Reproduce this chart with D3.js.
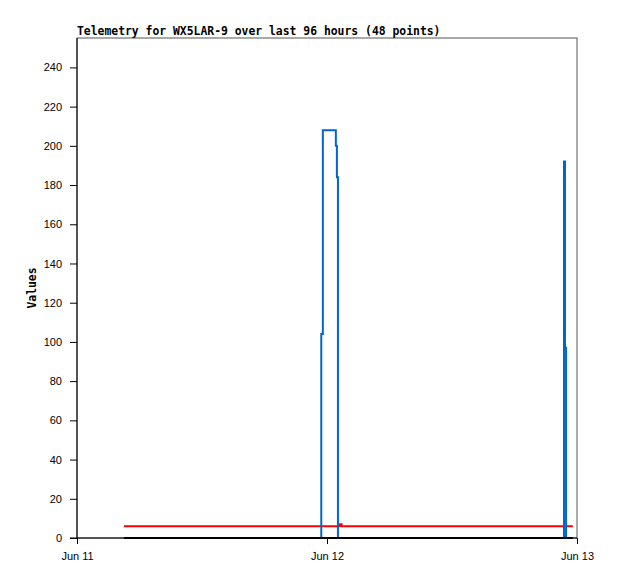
<!DOCTYPE html>
<html>
<head>
<meta charset="utf-8">
<script src="https://cdn.jsdelivr.net/npm/d3@7"></script>
<style>
  body { margin: 0; background: #fff; }
  svg { display: block; font-family: "DejaVu Sans Mono", "Liberation Mono", monospace; }
</style>
</head>
<body>
<svg id="chart"></svg>
<script>
// hours after Jun 11 00:00 and the values
var blueHours  = [4.5, 23.45, 23.6, 24.85, 24.95, 25.05, 46.75, 46.85, 46.95, 47.6]
var blueValues = [0,   104,   208,  200,   184,   0,     192,   97,    0,     0]

var redHours  = [4.5, 25.25, 25.4, 47.6]
var redValues = [6,   7,     6,    6]

var blackHours  = [4.5, 47.6]
var blackValues = [0,   0]

var yTicks = [0, 20, 40, 60, 80, 100, 120, 140, 160, 180, 200, 220, 240]
var xTickLabels = ["Jun 11", "Jun 12", "Jun 13"]

var width = 618, height = 579
var margin = {top: 38, right: 41, bottom: 41, left: 77}
var w = width - margin.left - margin.right,
    h = height - margin.top - margin.bottom

var start = new Date(2024, 5, 11)
var hourToDate = hh => new Date(start.getTime() + hh * 3600e3)

var svg = d3.select("#chart")
    .attr("width", width)
    .attr("height", height)

var g = svg.append("g")
    .attr("transform", `translate(${margin.left},${margin.top})`)

var x = d3.scaleTime()
    .domain([start, hourToDate(48)])
    .range([0, w])

var y = d3.scaleLinear()
    .domain([0, 255])
    .range([h, 0])

// frame
g.append("rect")
    .attr("width", w)
    .attr("height", h)
    .attr("fill", "none")
    .attr("stroke", "#555")

var line = d3.line()
    .x(d => x(hourToDate(d[0])))
    .y(d => y(d[1]))
    .curve(d3.curveStepAfter)

var series = [
  {hours: redHours, values: redValues, color: "#ff0000"},
  {hours: blueHours, values: blueValues, color: "#0066cc"},
  {hours: blackHours, values: blackValues, color: "#000000"}
]

g.selectAll("path.series")
  .data(series)
  .enter().append("path")
    .attr("class", "series")
    .attr("fill", "none")
    .attr("stroke", d => d.color)
    .attr("stroke-width", 2)
    .attr("d", d => line(d.hours.map((hh, i) => [hh, d.values[i]])))

// axes
var yAxis = d3.axisLeft(y)
    .tickValues(yTicks)
    .tickSize(7)
    .tickPadding(8)

var xAxis = d3.axisBottom(x)
    .tickValues(xTickLabels.map((t, i) => hourToDate(i * 24)))
    .tickFormat((d, i) => xTickLabels[i])
    .tickSize(6)
    .tickPadding(8)

g.append("g")
    .call(yAxis)
    .call(a => a.select(".domain").remove())
    .call(a => a.selectAll("text").attr("font-size", 11).attr("font-family", null).attr("fill", "#000"))

g.append("line")
    .attr("y2", h)
    .attr("stroke", "#000")

g.append("g")
    .attr("transform", `translate(0,${h})`)
    .call(xAxis)
    .call(a => a.select(".domain").remove())
    .call(a => a.selectAll("text").attr("font-size", 11).attr("font-family", null).attr("fill", "#000"))

g.append("line")
    .attr("x1", -7)
    .attr("x2", w)
    .attr("y1", h)
    .attr("y2", h)
    .attr("stroke", "#000")

// title and axis label
svg.append("text")
    .attr("x", margin.left)
    .attr("y", 35)
    .attr("font-size", 11.4)
    .attr("font-weight", "bold")
    .text("Telemetry for WX5LAR-9 over last 96 hours (48 points)")

svg.append("text")
    .attr("transform", `translate(36,${margin.top + h / 2}) rotate(-90)`)
    .attr("text-anchor", "middle")
    .attr("font-size", 11.4)
    .attr("font-weight", "bold")
    .text("Values")
</script>
</body>
</html>
